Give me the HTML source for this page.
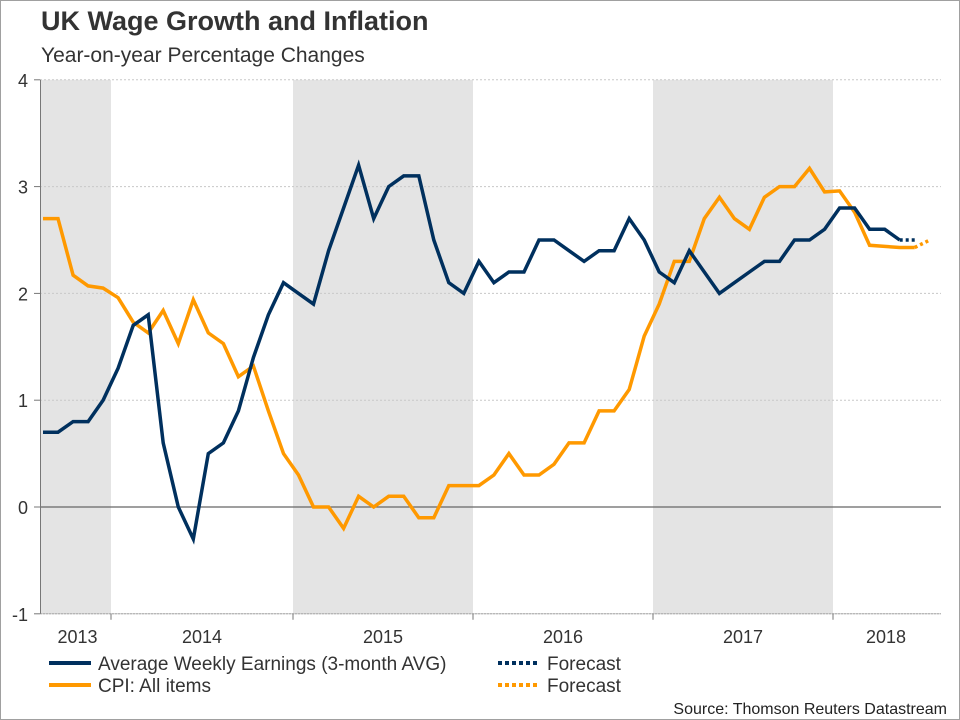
<!DOCTYPE html>
<html><head><meta charset="utf-8"><style>
body{margin:0;background:#fff}
#wrap{position:relative;width:958px;height:718px;border:1px solid #a0a0a0;overflow:hidden;font-family:"Liberation Sans",sans-serif;color:#333}
.t{position:absolute;white-space:nowrap}
</style></head><body>
<div id="wrap">
<div class="t" style="left:40px;top:5px;font-size:27px;font-weight:bold;">UK Wage Growth and Inflation</div>
<div class="t" style="left:40px;top:43px;font-size:21px;">Year-on-year Percentage Changes</div>
<svg id="chart" width="958" height="718" style="position:absolute;left:0;top:0"></svg>
<div class="t" style="right:12px;top:700px;font-size:16px;color:#222">Source: Thomson Reuters Datastream</div>
</div>
<script>
const yTicks=[-1,0,1,2,3,4];
const years=["2013","2014","2015","2016","2017","2018"];
const earnings=[0.7,0.7,0.8,0.8,1.0,1.3,1.7,1.8,0.6,0.0,-0.3,0.5,0.6,0.9,1.4,1.8,2.1,2.0,1.9,2.4,2.8,3.2,2.7,3.0,3.1,3.1,2.5,2.1,2.0,2.3,2.1,2.2,2.2,2.5,2.5,2.4,2.3,2.4,2.4,2.7,2.5,2.2,2.1,2.4,2.2,2.0,2.1,2.2,2.3,2.3,2.5,2.5,2.6,2.8,2.8,2.6,2.6,2.5];
const earningsForecast=[2.5,2.5];
const cpi=[2.7,2.7,2.17,2.07,2.05,1.96,1.73,1.63,1.84,1.53,1.94,1.63,1.53,1.22,1.32,0.9,0.5,0.3,0.0,0.0,-0.2,0.1,0.0,0.1,0.1,-0.1,-0.1,0.2,0.2,0.2,0.3,0.5,0.3,0.3,0.4,0.6,0.6,0.9,0.9,1.1,1.6,1.9,2.3,2.3,2.7,2.9,2.7,2.6,2.9,3.0,3.0,3.17,2.95,2.96,2.76,2.45,2.44,2.43,2.43];
const cpiForecast=[2.43,2.5];

const NS="http://www.w3.org/2000/svg";
const svg=document.getElementById('chart');
function y(v){return 506-v*106.8;}
function x(i){return 42+i*15.03;}
function mk(tag,attrs,parent){const e=document.createElementNS(NS,tag);for(const k in attrs)e.setAttribute(k,attrs[k]);(parent||svg).appendChild(e);return e;}
const yearEdges=[39,110,292,472,652,832,940];
for(let i=0;i<years.length;i++){
  if(i%2===0 && i<5){
    const r=mk('rect',{x:yearEdges[i],y:y(4),width:yearEdges[i+1]-yearEdges[i],height:y(-1)-y(4),fill:'#e4e4e4'});
    
    
  }
}
yTicks.forEach(v=>{
  const g=mk('line',{x1:39,x2:940,y1:y(v),y2:y(v),stroke:v===0?'#666':'#c8c8c8','stroke-width':v===0?1.3:1,'stroke-dasharray':(v===0||v===-1)?'':'2,2'});
  
  
  mk('line',{x1:33,x2:39,y1:y(v),y2:y(v),stroke:'#777'});
  const t=mk('text',{x:27,y:y(v)+7,'text-anchor':'end','font-size':18,fill:'#333','font-family':'Liberation Sans, sans-serif'});
  t.textContent=v;
  
  
});
mk('line',{x1:39,x2:940,y1:y(-1),y2:y(-1),stroke:'#aaa','stroke-dasharray':'2,1'});
mk('line',{x1:39.5,x2:39.5,y1:y(4),y2:y(-1),stroke:'#777'});
for(let i=1;i<yearEdges.length-1;i++)mk('line',{x1:yearEdges[i],x2:yearEdges[i],y1:y(-1),y2:y(-1)+6,stroke:'#777'});
years.forEach((yr,i)=>{
  const cx=i===5?885:(yearEdges[i]+yearEdges[i+1])/2+(i===0?2:0);
  const t=mk('text',{x:cx,y:642,'text-anchor':'middle','font-size':18,fill:'#333','font-family':'Liberation Sans, sans-serif'});
  t.textContent=yr;
  
  
});
function line(arr,off,color,dash,name){
  const p=arr.map((v,i)=>x(i+off).toFixed(1)+','+y(v).toFixed(1)).join(' ');
  const e=mk('polyline',{points:p,fill:'none',stroke:color,'stroke-width':3.5,'stroke-linejoin':'miter','stroke-dasharray':dash||''});
  
  
}
line(cpi,0,'#ff9900','', 'cpi-line');
line(cpiForecast,cpi.length-1,'#ff9900','3,3','cpi-forecast-line');
line(earnings,0,'#00305e','', 'earnings-line');
line(earningsForecast,earnings.length-1,'#00305e','3,3','earnings-forecast-line');
function leg(x0,yy,color,dash,label,name){
  const g=mk('g',{});
  
  
  mk('line',{x1:x0,x2:x0+42,y1:yy,y2:yy,stroke:color,'stroke-width':4,'stroke-dasharray':dash},g);
  const t=mk('text',{x:x0+49,y:yy+7,'font-size':19,fill:'#333','font-family':'Liberation Sans, sans-serif'},g);
  t.textContent=label;
}
leg(48,662,'#00305e','','Average Weekly Earnings (3-month AVG)','legend-earnings');
leg(48,684,'#ff9900','','CPI: All items','legend-cpi');
leg(497,662,'#00305e','4,3','Forecast','legend-earnings-forecast');
leg(497,684,'#ff9900','4,3','Forecast','legend-cpi-forecast');
</script>
</body></html>
